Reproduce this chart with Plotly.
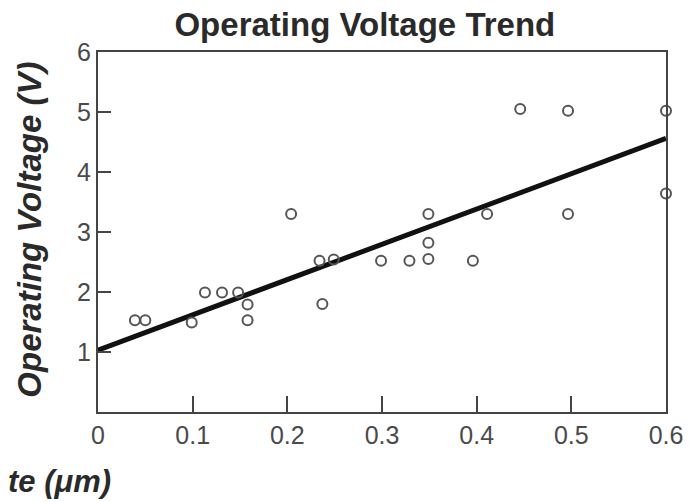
import plotly.graph_objects as go

# Data
thickness = [0.039, 0.050, 0.099, 0.113, 0.131, 0.148, 0.158, 0.158, 0.204, 0.234, 0.249, 0.237,
             0.299, 0.329, 0.349, 0.349, 0.349, 0.396, 0.411, 0.446, 0.4965, 0.4965, 0.600, 0.600]
voltage = [1.53, 1.53, 1.49, 1.99, 1.99, 1.99, 1.79, 1.53, 3.30, 2.52, 2.54, 1.80,
           2.52, 2.52, 2.55, 2.82, 3.30, 2.52, 3.30, 5.05, 5.02, 3.30, 5.02, 3.64]
fit_x = [0.0, 0.6]
fit_y = [1.03, 4.56]
x_ticks = [0, 0.1, 0.2, 0.3, 0.4, 0.5, 0.6]
x_tick_labels = ["0", "0.1", "0.2", "0.3", "0.4", "0.5", "0.6"]
y_ticks = [1, 2, 3, 4, 5, 6]
y_tick_labels = ["1", "2", "3", "4", "5", "6"]

fig = go.Figure()
fig.add_trace(go.Scatter(
    x=fit_x, y=fit_y, mode="lines",
    line=dict(color="#111111", width=5), showlegend=False, hoverinfo="skip"))
fig.add_trace(go.Scatter(
    x=thickness, y=voltage, mode="markers",
    marker=dict(symbol="circle-open", size=10, color="#555555", line=dict(width=2, color="#555555")),
    showlegend=False, cliponaxis=False))

axis_font = dict(family="Liberation Sans, Arial, sans-serif", size=25, color="#4a4a4a")
fig.update_layout(
    width=691, height=502,
    margin=dict(l=98, r=25, t=52, b=90, autoexpand=False),
    paper_bgcolor="white", plot_bgcolor="white",
    title=dict(text="<b>Operating Voltage Trend</b>", x=0.528, xref="container", xanchor="center",
               y=0.952, yref="container", yanchor="middle", automargin=False,
               font=dict(family="Liberation Sans, Arial, sans-serif", size=33, color="#2a2a2a")),
    xaxis=dict(range=[0, 0.6], tickvals=x_ticks, ticktext=x_tick_labels, ticks="inside",
               ticklen=16, tickwidth=2, tickcolor="#444444", showline=True, linecolor="#444444",
               linewidth=2, mirror=True, showgrid=False, zeroline=False, tickfont=axis_font,
               automargin=False),
    yaxis=dict(range=[0, 6], tickvals=y_ticks, ticktext=y_tick_labels, ticks="inside",
               ticklen=13, tickwidth=2, tickcolor="#444444", showline=True, linecolor="#444444",
               linewidth=2, mirror=True, showgrid=False, zeroline=False, tickfont=axis_font,
               automargin=False),
    annotations=[
        dict(text="<b><i>Operating Voltage (V)</i></b>", textangle=-90, xref="paper", yref="paper",
             x=-0.12, y=0.506, xanchor="center", yanchor="middle", showarrow=False,
             font=dict(family="Liberation Sans, Arial, sans-serif", size=33, color="#2a2a2a")),
        dict(text="<b><i>te (μm)</i></b>", xref="paper", yref="paper",
             x=0.026, y=-0.194, xanchor="right", yanchor="middle", showarrow=False,
             font=dict(family="Liberation Sans, Arial, sans-serif", size=31, color="#2a2a2a")),
    ],
)
fig.write_html("out.html")
